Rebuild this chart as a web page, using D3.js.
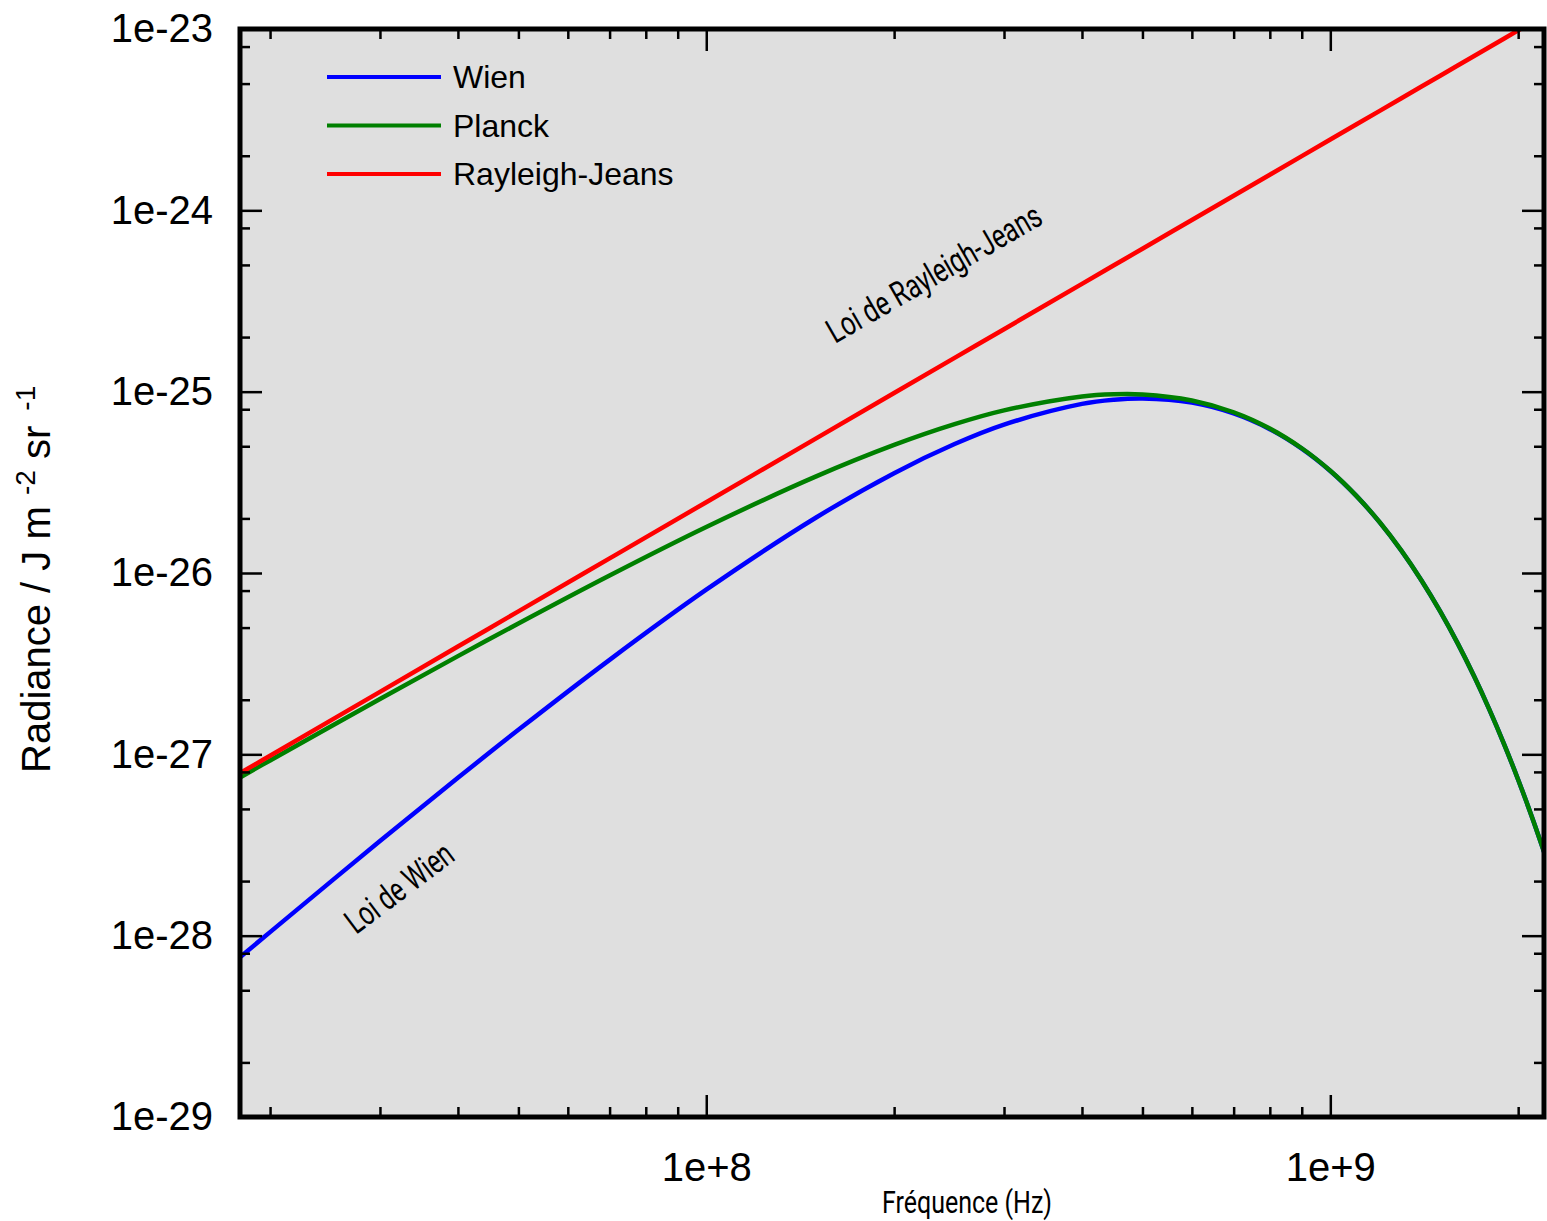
<!DOCTYPE html>
<html>
<head>
<meta charset="utf-8">
<script src="https://cdn.jsdelivr.net/npm/d3@7"></script>
<style>
  body { margin: 0; background: #fff; }
  text { font-family: "Liberation Sans", Arial, sans-serif; fill: #000; }
  .cond { font-family: Roboto, "DejaVu Sans", sans-serif; font-weight: 400; }
</style>
</head>
<body>
<div id="chart"></div>
<script>
// fréquences (Hz)
var frequencies = [1.79e7, 2e7, 3e7, 4e7, 5e7, 7e7, 1e8, 1.5e8, 2e8, 2.5e8, 3e8, 4e8, 4.5e8, 5e8, 6e8, 7e8, 8e8, 9e8,
    1e9, 1.1e9, 1.2e9, 1.3e9, 1.4e9, 1.5e9, 1.6e9, 1.7e9, 1.8e9, 1.9e9, 2e9, 2.1e9, 2.2e9];

// radiance (J m-2 sr-1) pour chaque loi
var wien = [7.60e-29, 1.046e-28, 3.325e-28, 7.42e-28, 1.365e-27, 3.32e-27, 8.09e-27, 2.023e-26, 3.553e-26, 5.141e-26,
    6.581e-26, 8.560e-26, 9.029e-26, 9.176e-26, 8.702e-26, 7.583e-26, 6.213e-26, 4.854e-26,
    3.655e-26, 2.670e-26, 1.902e-26, 1.327e-26, 9.098e-27, 6.14e-27, 4.09e-27, 2.693e-27, 1.754e-27, 1.132e-27, 7.247e-28, 4.604e-28, 2.905e-28];
var planck = [7.457e-28, 9.251e-28, 2.019e-27, 3.479e-27, 5.267e-27, 9.688e-27, 1.7935e-26, 3.409e-26, 5.084e-26, 6.617e-26,
    7.884e-26, 9.414e-26, 9.680e-26, 9.656e-26, 8.946e-26, 7.699e-26, 6.264e-26, 4.876e-26,
    3.663e-26, 2.673e-26, 1.904e-26, 1.328e-26, 9.100e-27, 6.141e-27, 4.090e-27, 2.693e-27, 1.754e-27, 1.132e-27, 7.247e-28, 4.604e-28, 2.905e-28];
var rayleighJeans = [7.873e-28, 9.828e-28, 2.211e-27, 3.931e-27, 6.143e-27, 1.204e-26, 2.457e-26, 5.528e-26, 9.828e-26, 1.536e-25,
    2.211e-25, 3.931e-25, 4.975e-25, 6.143e-25, 8.845e-25, 1.204e-24, 1.572e-24, 1.990e-24,
    2.457e-24, 2.973e-24, 3.538e-24, 4.152e-24, 4.816e-24, 5.528e-24, 6.290e-24, 7.101e-24, 7.961e-24, 8.870e-24, 9.828e-24, 1.084e-23, 1.189e-23];

var seriesNames = ['Wien', 'Planck', 'Rayleigh-Jeans'];
var seriesColors = ['#0000ff', '#008000', '#ff0000'];

var xMajor = [1e8, 1e9];
var yMajor = [1e-29, 1e-28, 1e-27, 1e-26, 1e-25, 1e-24, 1e-23];

var width = 1547, height = 1221,
    plotLeft = 240, plotRight = 1544, plotTop = 29, plotBottom = 1117;

var svg = d3.select('#chart').append('svg')
    .attr('width', width)
    .attr('height', height);

var x = d3.scaleLog().domain([1.79e7, 2.2e9]).range([plotLeft, plotRight]);
var y = d3.scaleLog().domain([1e-29, 1e-23]).range([plotBottom, plotTop]);

// graduations secondaires
var xMinor = [];
[1e7, 1e8, 1e9].forEach(function (d) {
    for (var k = 2; k <= 9; k++) {
        var v = d * k;
        if (v > x.domain()[0] && v < x.domain()[1]) xMinor.push(v);
    }
});
var yMinor = [];
yMajor.slice(0, -1).forEach(function (d) {
    [2, 5, 8].forEach(function (k) { yMinor.push(d * k); });
});

// fond gris
svg.append('rect')
    .attr('x', plotLeft).attr('y', plotTop)
    .attr('width', plotRight - plotLeft).attr('height', plotBottom - plotTop)
    .attr('fill', '#dfdfdf');

svg.append('clipPath').attr('id', 'plot')
    .append('rect')
    .attr('x', plotLeft).attr('y', plotTop)
    .attr('width', plotRight - plotLeft).attr('height', plotBottom - plotTop);

// courbes
var line = d3.line()
    .x(function (d) { return x(d[0]); })
    .y(function (d) { return y(d[1]); })
    .curve(d3.curveCatmullRom.alpha(0.5));

[wien, planck, rayleighJeans].forEach(function (values, i) {
    svg.append('path')
        .datum(frequencies.map(function (f, j) { return [f, values[j]]; }))
        .attr('clip-path', 'url(#plot)')
        .attr('fill', 'none')
        .attr('stroke', seriesColors[i])
        .attr('stroke-width', 4.5)
        .attr('d', line);
});

// axes : traits vers l'intérieur
function styleAxis(g) {
    g.select('.domain').remove();
    g.selectAll('.tick line').attr('stroke', '#000').attr('stroke-width', 2.5);
    g.selectAll('.tick text').attr('font-size', 40)
        .attr('font-family', '"Liberation Sans", Arial, sans-serif').attr('fill', '#000');
}

svg.append('g').attr('transform', 'translate(0,' + plotBottom + ')')
    .call(d3.axisBottom(x).tickValues(xMinor).tickSize(-10).tickFormat(''))
    .call(styleAxis);
svg.append('g').attr('transform', 'translate(0,' + plotBottom + ')')
    .call(d3.axisBottom(x).tickValues(xMajor).tickSize(-22).tickPadding(36)
        .tickFormat(function (d) { return '1e+' + Math.round(Math.log10(d)); }))
    .call(styleAxis);
svg.append('g').attr('transform', 'translate(0,' + plotTop + ')')
    .call(d3.axisTop(x).tickValues(xMinor).tickSize(-10).tickFormat(''))
    .call(styleAxis);
svg.append('g').attr('transform', 'translate(0,' + plotTop + ')')
    .call(d3.axisTop(x).tickValues(xMajor).tickSize(-22).tickFormat(''))
    .call(styleAxis);

svg.append('g').attr('transform', 'translate(' + plotLeft + ',0)')
    .call(d3.axisLeft(y).tickValues(yMinor).tickSize(-10).tickFormat(''))
    .call(styleAxis);
svg.append('g').attr('transform', 'translate(' + plotLeft + ',0)')
    .call(d3.axisLeft(y).tickValues(yMajor).tickSize(-22).tickPadding(27)
        .tickFormat(function (d) { return '1e' + Math.round(Math.log10(d)); }))
    .call(styleAxis);
svg.append('g').attr('transform', 'translate(' + plotRight + ',0)')
    .call(d3.axisRight(y).tickValues(yMinor).tickSize(-10).tickFormat(''))
    .call(styleAxis);
svg.append('g').attr('transform', 'translate(' + plotRight + ',0)')
    .call(d3.axisRight(y).tickValues(yMajor).tickSize(-22).tickFormat(''))
    .call(styleAxis);

// cadre
svg.append('rect')
    .attr('x', plotLeft).attr('y', plotTop)
    .attr('width', plotRight - plotLeft).attr('height', plotBottom - plotTop)
    .attr('fill', 'none')
    .attr('stroke', '#000')
    .attr('stroke-width', 5);

// légende
var legend = svg.append('g');
seriesNames.forEach(function (name, i) {
    var ly = 77 + i * 48.5;
    legend.append('line')
        .attr('x1', 327).attr('x2', 441)
        .attr('y1', ly).attr('y2', ly)
        .attr('stroke', seriesColors[i])
        .attr('stroke-width', 4);
    legend.append('text')
        .attr('x', 453).attr('y', ly + 11)
        .attr('font-size', 32)
        .text(name);
});

// titres des axes
var yTitle = svg.append('text')
    .attr('transform', 'translate(50,773) rotate(-90)')
    .attr('font-size', 40);
yTitle.append('tspan').text('Radiance / J m ');
yTitle.append('tspan').attr('dy', -15).attr('font-size', 28).text('-2');
yTitle.append('tspan').attr('dy', 15).text(' sr ');
yTitle.append('tspan').attr('dx', 4).attr('dy', -15).attr('font-size', 28).text('-1');

svg.append('text')
    .attr('class', 'cond')
    .attr('x', 967).attr('y', 1213)
    .attr('text-anchor', 'middle')
    .attr('font-size', 32)
    .attr('textLength', 170)
    .attr('lengthAdjust', 'spacingAndGlyphs')
    .text('Fréquence (Hz)');

// annotations
svg.append('text')
    .attr('class', 'cond')
    .attr('transform', 'translate(835,344) rotate(-30)')
    .attr('font-size', 34)
    .attr('textLength', 242)
    .attr('lengthAdjust', 'spacingAndGlyphs')
    .text('Loi de Rayleigh-Jeans');

svg.append('text')
    .attr('class', 'cond')
    .attr('transform', 'translate(356,935) rotate(-37)')
    .attr('font-size', 34)
    .attr('textLength', 126)
    .attr('lengthAdjust', 'spacingAndGlyphs')
    .text('Loi de Wien');
</script>
</body>
</html>
